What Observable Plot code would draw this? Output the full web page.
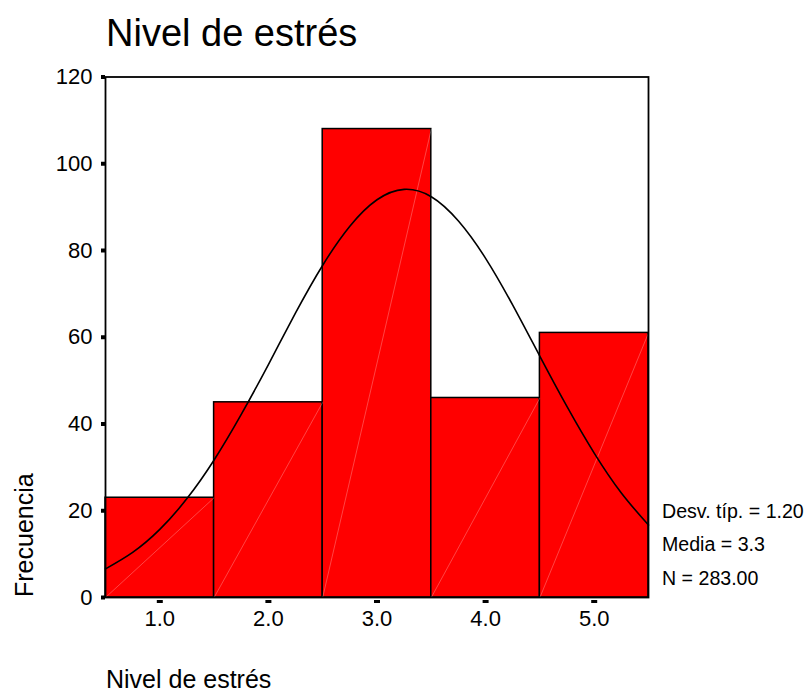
<!DOCTYPE html>
<html>
<head>
<meta charset="utf-8">
<script src="https://cdn.jsdelivr.net/npm/d3@7"></script>
<script src="https://cdn.jsdelivr.net/npm/@observablehq/plot@0.6"></script>
<style>
  html, body { margin: 0; padding: 0; background: white; }
  #wrap { position: relative; width: 811px; height: 693px; font-family: "Liberation Sans", Arial, sans-serif; color: black; }
  .t { position: absolute; line-height: 1; white-space: nowrap; }
</style>
</head>
<body>
<div id="wrap">
  <div class="t" style="left:106px; top:13.8px; font-size:38px;">Nivel de estrés</div>
  <div class="t" style="left:11.8px; top:597px; font-size:25px; transform-origin:0 0; transform:rotate(-90deg);">Frecuencia</div>
  <div class="t" style="left:106px; top:666.8px; font-size:25px;">Nivel de estrés</div>
  <div class="t" id="stats" style="left:662px; top:501.5px; font-size:19.6px;"></div>
</div>
<script>
// Histogram data
const levels = [1, 2, 3, 4, 5];
const counts = [23, 45, 108, 46, 61];
const xTicks = [1, 2, 3, 4, 5];
const yTicks = [0, 20, 40, 60, 80, 100, 120];
// Fitted normal curve
const curveX = [0.5, 0.75, 1.0, 1.25, 1.5, 1.75, 2.0, 2.25, 2.5, 2.75, 3.0, 3.25, 3.5, 3.75, 4.0, 4.25, 4.5, 4.75, 5.0, 5.25, 5.5];
const curveY = [6.6, 10.4, 15.7, 22.8, 31.7, 42.2, 53.7, 65.6, 76.6, 85.6, 91.7, 94.1, 92.4, 86.8, 78.2, 67.4, 55.6, 44.0, 33.3, 24.1, 16.7];
const statLines = ["Desv. típ. = 1.20", "Media = 3.3", "N = 283.00"];

const table = levels.map((l, i) => ({x1: l - 0.5, x2: l + 0.5, count: counts[i]}));
const curve = curveX.map((x, i) => ({x, y: curveY[i]}));

const chart = Plot.plot({
  width: 811,
  height: 693,
  marginTop: 76.5,
  marginRight: 163,
  marginBottom: 96,
  marginLeft: 105,
  x: {domain: [0.5, 5.5]},
  y: {domain: [0, 120]},
  style: {fontFamily: "'Liberation Sans', Arial, sans-serif", fontSize: "22px", color: "black", background: "white", overflow: "visible"},
  marks: [
    Plot.rectY(table, {x1: "x1", x2: "x2", y: "count", fill: "#ff0000", stroke: "black", strokeWidth: 1.5, inset: 0}),
    Plot.link(table, {x1: "x1", y1: 0, x2: "x2", y2: "count", stroke: "white", strokeWidth: 0.6, strokeOpacity: 0.45}),
    Plot.line(curve, {x: "x", y: "y", stroke: "black", strokeWidth: 1.6, curve: "natural"}),
    Plot.frame({stroke: "black", strokeWidth: 1.8}),
    Plot.axisY({ticks: yTicks, tickSize: 4, strokeWidth: 4, tickPadding: 9, label: null, fontSize: 22}),
    Plot.axisX({ticks: xTicks, tickFormat: d3.format(".1f"), tickSize: 3, strokeWidth: 6, dy: 3, tickPadding: 7, label: null, fontSize: 22})
  ]
});
chart.style.position = "absolute";
chart.style.left = "0px";
chart.style.top = "0px";
const wrap = document.getElementById("wrap");
wrap.insertBefore(chart, wrap.firstChild);

const stats = document.getElementById("stats");
statLines.forEach((s, i) => {
  const d = document.createElement("div");
  d.textContent = s;
  d.style.height = i < statLines.length - 1 ? "33.5px" : "19.6px";
  stats.appendChild(d);
});
</script>
</body>
</html>
